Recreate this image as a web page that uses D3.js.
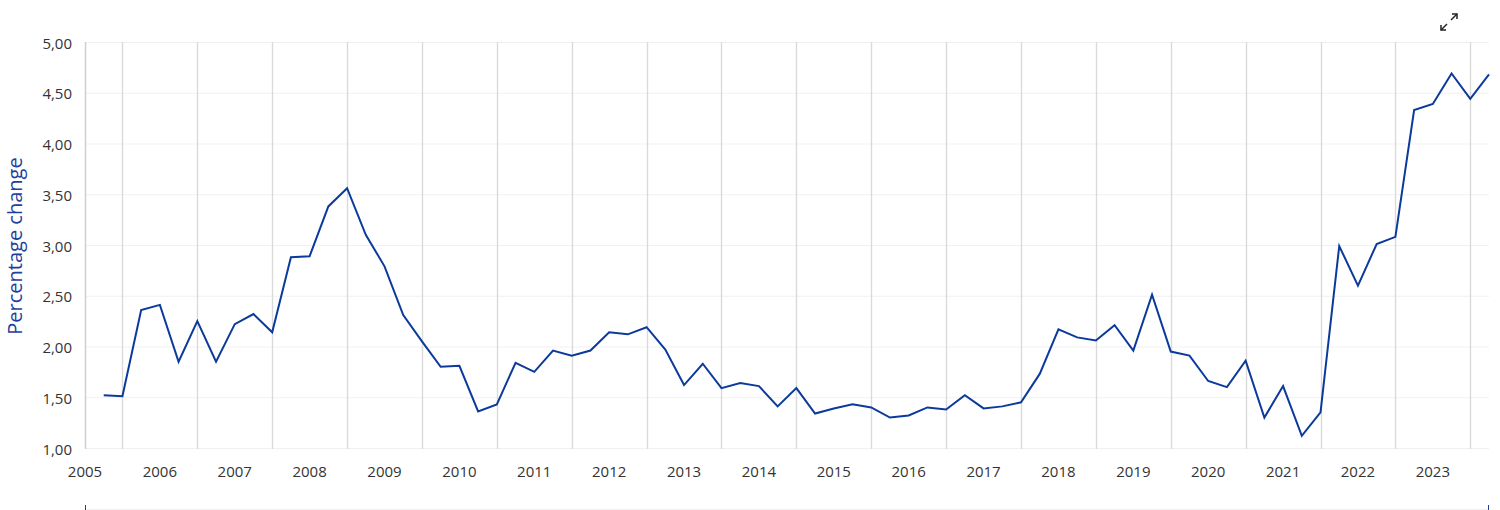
<!DOCTYPE html>
<html>
<head>
<meta charset="utf-8">
<script src="https://cdn.jsdelivr.net/npm/d3@7"></script>
<style>
  html, body { margin: 0; padding: 0; background: #fff; }
  svg { display: block; font-family: "Open Sans", sans-serif; }
</style>
</head>
<body>
<svg id="chart" width="1500" height="510"></svg>
<script>
// ---- data ----
const quarters = [
  "2005Q3","2005Q4",
  "2006Q1","2006Q2","2006Q3","2006Q4",
  "2007Q1","2007Q2","2007Q3","2007Q4",
  "2008Q1","2008Q2","2008Q3","2008Q4",
  "2009Q1","2009Q2","2009Q3","2009Q4",
  "2010Q1","2010Q2","2010Q3","2010Q4",
  "2011Q1","2011Q2","2011Q3","2011Q4",
  "2012Q1","2012Q2","2012Q3","2012Q4",
  "2013Q1","2013Q2","2013Q3","2013Q4",
  "2014Q1","2014Q2","2014Q3","2014Q4",
  "2015Q1","2015Q2","2015Q3","2015Q4",
  "2016Q1","2016Q2","2016Q3","2016Q4",
  "2017Q1","2017Q2","2017Q3","2017Q4",
  "2018Q1","2018Q2","2018Q3","2018Q4",
  "2019Q1","2019Q2","2019Q3","2019Q4",
  "2020Q1","2020Q2","2020Q3","2020Q4",
  "2021Q1","2021Q2","2021Q3","2021Q4",
  "2022Q1","2022Q2","2022Q3","2022Q4",
  "2023Q1","2023Q2","2023Q3","2023Q4",
  "2024Q1"
];
const values = [
  1.52, 1.51,
  2.36, 2.41, 1.85, 2.25,
  1.85, 2.22, 2.32, 2.14,
  2.88, 2.89, 3.38, 3.56,
  3.10, 2.79, 2.31, 2.05,
  1.80, 1.81, 1.36, 1.43,
  1.84, 1.75, 1.96, 1.91,
  1.96, 2.14, 2.12, 2.19,
  1.97, 1.62, 1.83, 1.59,
  1.64, 1.61, 1.41, 1.59,
  1.34, 1.39, 1.43, 1.40,
  1.30, 1.32, 1.40, 1.38,
  1.52, 1.39, 1.41, 1.45,
  1.73, 2.17, 2.09, 2.06,
  2.21, 1.96, 2.51, 1.95,
  1.91, 1.66, 1.60, 1.86,
  1.30, 1.61, 1.12, 1.35,
  2.99, 2.60, 3.01, 3.08,
  4.33, 4.39, 4.69, 4.44,
  4.68
];
const yearLabels = ["2005","2006","2007","2008","2009","2010","2011","2012","2013","2014","2015","2016","2017","2018","2019","2020","2021","2022","2023"];
const yTicks = [1.00, 1.50, 2.00, 2.50, 3.00, 3.50, 4.00, 4.50, 5.00];
const yTitle = "Percentage change";

// ---- helpers ----
// a quarter is plotted at the end of the quarter (decimal year)
const qTime = q => +q.slice(0, 4) + (+q.slice(5)) * 0.25;
const data = quarters.map((q, i) => ({ t: qTime(q), v: values[i] }));

const svg = d3.select("#chart");
const pLeft = 85, pRight = 1489, pTop = 42, pBottom = 448;

const x = d3.scaleLinear().domain([2005.5, 2024.25]).range([pLeft, pRight]);
const y = d3.scaleLinear().domain([1, 5]).range([pBottom, pTop]);

// horizontal grid
svg.append("g").selectAll("line").data(yTicks).join("line")
  .attr("x1", pLeft).attr("x2", pRight)
  .attr("y1", d => y(d) + 0.5).attr("y2", d => y(d) + 0.5)
  .attr("stroke", "#f1f1f1").attr("stroke-width", 1);

// vertical year boundaries
const boundaries = d3.range(2006, 2025);
svg.append("g").selectAll("line").data(boundaries).join("line")
  .attr("x1", d => Math.round(x(d)) + 0.5).attr("x2", d => Math.round(x(d)) + 0.5)
  .attr("y1", pTop).attr("y2", pBottom + 1)
  .attr("stroke", "#dadada").attr("stroke-width", 1.4);

// left axis line
svg.append("line")
  .attr("x1", pLeft + 0.5).attr("x2", pLeft + 0.5)
  .attr("y1", pTop).attr("y2", pBottom + 1)
  .attr("stroke", "#cfcfcf").attr("stroke-width", 1.5);

// y tick labels
const fmt = d => d.toFixed(2).replace(".", ",");
svg.append("g").selectAll("text").data(yTicks).join("text")
  .attr("x", 72).attr("y", d => y(d) + 6.5)
  .attr("text-anchor", "end")
  .attr("font-size", 15).attr("fill", "#333")
  .text(fmt);

// x labels centred in each year
svg.append("g").selectAll("text").data(yearLabels).join("text")
  .attr("x", d => x(+d + 0.5)).attr("y", 477)
  .attr("text-anchor", "middle")
  .attr("font-size", 15).attr("fill", "#333")
  .text(d => d);

// y title
svg.append("text")
  .attr("transform", "translate(22," + ((pTop + pBottom) / 2 + 1) + ") rotate(-90)")
  .attr("text-anchor", "middle")
  .attr("font-size", 20).attr("fill", "#1f3f9e")
  .text(yTitle);

// line
const line = d3.line().x(d => x(d.t)).y(d => y(d.v));
svg.append("path").datum(data)
  .attr("d", line)
  .attr("fill", "none")
  .attr("stroke", "#0b3a9c")
  .attr("stroke-width", 2)
  .attr("stroke-linejoin", "miter");

// navigator hints at the bottom
svg.append("line").attr("x1", pLeft).attr("x2", pRight).attr("y1", 509.5).attr("y2", 509.5)
  .attr("stroke", "#f0f0f0");
[pLeft, pRight - 1].forEach(px => {
  svg.append("line").attr("x1", px + 0.5).attr("x2", px + 0.5).attr("y1", 505).attr("y2", 510)
    .attr("stroke", "#1f3f9e").attr("stroke-width", 1);
});

// expand icon
const ic = svg.append("g").attr("stroke", "#222").attr("stroke-width", 1.5).attr("fill", "none");
ic.append("line").attr("x1", 1441).attr("y1", 30).attr("x2", 1447).attr("y2", 24);
ic.append("path").attr("d", "M1441,25 L1441,30 L1446,30");
ic.append("line").attr("x1", 1451).attr("y1", 20).attr("x2", 1457).attr("y2", 14);
ic.append("path").attr("d", "M1452,14 L1457,14 L1457,19");
</script>
</body>
</html>
